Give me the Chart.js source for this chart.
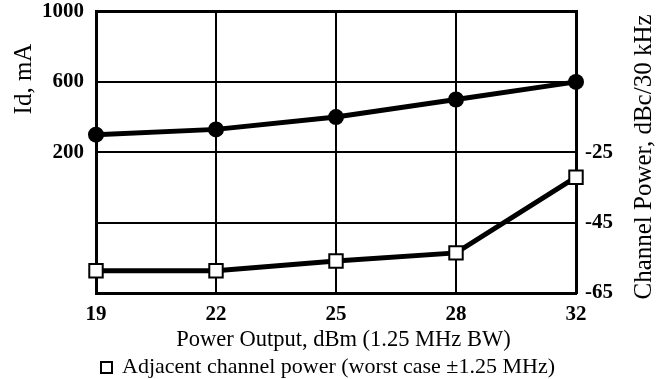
<!DOCTYPE html>
<html>
<head>
<meta charset="utf-8">
<script src="https://cdn.jsdelivr.net/npm/chart.js@4/dist/chart.umd.min.js"></script>
<style>
  html, body { margin: 0; padding: 0; background: #fff; }
  #wrap { width: 662px; height: 379px; }
</style>
</head>
<body>
<div id="wrap"><canvas id="myChart" width="662" height="379"></canvas></div>
<script>
// data
var powerOut = ['19', '22', '25', '28', '32'];
var idCurrent = [300, 330, 400, 500, 600];           // Id, mA
var adjChannel = [-58.7, -58.7, -55.9, -53.6, -32.1]; // dBc/30 kHz

var serif = "'Liberation Serif', 'Times New Roman', serif";

// axis titles + legend drawn as canvas text
const textPlugin = {
  id: 'textPlugin',
  afterDraw: (chart) => {
    const ctx = chart.ctx;
    ctx.save();
    ctx.fillStyle = '#000';
    ctx.textBaseline = 'alphabetic';

    // left title
    ctx.save();
    ctx.font = '25px ' + serif;
    ctx.translate(31, 79);
    ctx.rotate(-Math.PI / 2);
    ctx.textAlign = 'center';
    ctx.fillText('Id, mA', 0, 0);
    ctx.restore();

    // right title
    ctx.save();
    ctx.font = '25px ' + serif;
    ctx.translate(651, 157);
    ctx.rotate(-Math.PI / 2);
    ctx.textAlign = 'center';
    ctx.fillText('Channel Power, dBc/30 kHz', 0, 0);
    ctx.restore();

    // x title
    ctx.font = '22.5px ' + serif;
    ctx.textAlign = 'center';
    ctx.fillText('Power Output, dBm (1.25 MHz BW)', 343.5, 346);

    // legend
    ctx.lineWidth = 2;
    ctx.strokeStyle = '#000';
    ctx.fillStyle = '#fff';
    ctx.fillRect(101, 362, 11, 11);
    ctx.strokeRect(101, 362, 11, 11);
    ctx.fillStyle = '#000';
    ctx.font = '22px ' + serif;
    ctx.textAlign = 'left';
    ctx.fillText('Adjacent channel power (worst case \u00b11.25 MHz)', 122, 373);
    ctx.restore();
  }
};

var ctx = document.getElementById('myChart').getContext('2d');

const config = {
  type: 'line',
  data: {
    labels: powerOut,
    datasets: [{
      label: 'Id',
      data: idCurrent,
      yAxisID: 'y',
      borderColor: '#000',
      borderWidth: 5,
      pointStyle: 'circle',
      pointRadius: 8,
      pointBackgroundColor: '#000',
      pointBorderColor: '#000',
      pointBorderWidth: 0,
      tension: 0,
      clip: false
    }, {
      label: 'Adjacent channel power',
      data: adjChannel,
      yAxisID: 'y1',
      borderColor: '#000',
      borderWidth: 5,
      pointStyle: 'rect',
      pointRadius: 9.5,
      pointBackgroundColor: '#fff',
      pointBorderColor: '#000',
      pointBorderWidth: 2,
      tension: 0,
      clip: false
    }]
  },
  plugins: [textPlugin],
  options: {
    responsive: false,
    animation: false,
    layout: { padding: { top: 10, bottom: 0, left: 0, right: 0 } },
    plugins: {
      legend: { display: false },
      title: { display: false },
      tooltip: { enabled: false }
    },
    scales: {
      x: {
        offset: false,
        grid: {
          color: '#000',
          lineWidth: (c) => (c.index === 4 ? 3 : 2),
          drawTicks: false
        },
        border: { display: true, color: '#000', width: 3 },
        ticks: {
          color: '#000',
          padding: 9,
          maxRotation: 0,
          font: { family: serif, size: 21, weight: 'bold' }
        },
        afterFit: (s) => { s.height = 86; }
      },
      y: {
        position: 'left',
        min: -600,
        max: 1000,
        grid: {
          color: '#000',
          lineWidth: (c) => (c.tick && c.tick.value === 1000 ? 3 : 2),
          drawTicks: false
        },
        border: { display: true, color: '#000', width: 3 },
        ticks: {
          stepSize: 400,
          color: '#000',
          padding: 12,
          font: { family: serif, size: 21, weight: 'bold' },
          callback: (v) => (v >= 200 ? v : '')
        },
        afterFit: (s) => { s.width = 96; s.paddingTop = 0; s.paddingBottom = 0; }
      },
      y1: {
        position: 'right',
        min: -65,
        max: 15,
        grid: { drawOnChartArea: false, drawTicks: false },
        border: { display: true, color: '#000', width: 3 },
        ticks: {
          stepSize: 20,
          color: '#000',
          padding: 9,
          font: { family: serif, size: 21, weight: 'bold' },
          callback: (v) => (v <= -25 ? v : '')
        },
        afterFit: (s) => { s.width = 86; s.paddingTop = 0; s.paddingBottom = 0; }
      }
    }
  }
};

var powerChart = new Chart(ctx, config);
</script>
</body>
</html>
